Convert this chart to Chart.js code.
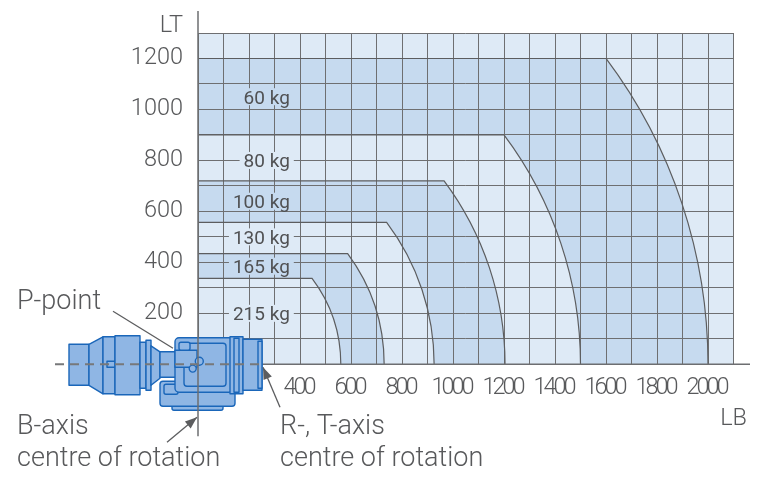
<!DOCTYPE html>
<html>
<head>
<meta charset="utf-8">
<script src="https://cdn.jsdelivr.net/npm/chart.js@4.4.1/dist/chart.umd.min.js"></script>
<style>
  html, body { margin: 0; padding: 0; background: #fff; }
  canvas { display: block; }
</style>
</head>
<body>
<canvas id="loadChart" width="774" height="484"></canvas>
<script>
// payload diagram, values
var payloads = ["60 kg", "80 kg", "100 kg", "130 kg", "165 kg", "215 kg"];
var maxReach = [2000, 1500, 1204, 926, 730, 560];   // LB where the envelope meets the axis
var maxHeight = [1200, 900, 720, 557, 434, 337];    // LT of the flat top
var labelLT = [1050, 800, 640, 500, 385, 200];      // height of each kg label
var labelLB = 360;                                  // right edge of the kg labels
var xTickLabels = [400, 600, 800, 1000, 1200, 1400, 1600, 1800, 2000];
var yTickLabels = [200, 400, 600, 800, 1000, 1200];

var LIGHT = "#deeaf6", DARK = "#c6daef", INK = "#58595b", GRID = "#6e6f71";
var FONT = "Roboto, 'Liberation Sans', sans-serif";

// top line + circular arc of one envelope, through the scales
function envelopePath(ctx, xs, ys, R, H) {
  var x0 = xs.getPixelForValue(0), y0 = ys.getPixelForValue(0);
  var rx = xs.getPixelForValue(R) - x0, ry = y0 - ys.getPixelForValue(R);
  var a = Math.sqrt(R * R - H * H);
  var th = Math.atan2(H, a);
  ctx.beginPath();
  ctx.moveTo(x0, ys.getPixelForValue(H));
  ctx.lineTo(xs.getPixelForValue(a), ys.getPixelForValue(H));
  ctx.ellipse(x0, y0, rx, ry, 0, -th, 0, false);
}

function arrow(ctx, x1, y1, x2, y2, head) {
  ctx.beginPath();
  ctx.moveTo(x1, y1);
  ctx.lineTo(x2, y2);
  ctx.stroke();
  if (!head) return;
  var ang = Math.atan2(y2 - y1, x2 - x1);
  ctx.beginPath();
  ctx.moveTo(x2, y2);
  ctx.lineTo(x2 - 12 * Math.cos(ang) + 4.5 * Math.sin(ang), y2 - 12 * Math.sin(ang) - 4.5 * Math.cos(ang));
  ctx.lineTo(x2 - 12 * Math.cos(ang) - 4.5 * Math.sin(ang), y2 - 12 * Math.sin(ang) + 4.5 * Math.cos(ang));
  ctx.closePath();
  ctx.fill();
}

// rough drawing of the wrist, offsets from the origin of the axes
function drawRobot(ctx, ox, oy) {
  ctx.save();
  ctx.translate(ox, oy);
  ctx.fillStyle = "#8fb6e4";
  ctx.strokeStyle = "#1a66b9";
  ctx.lineWidth = 1.4;
  ctx.lineJoin = "round";
  function poly(pts) {
    ctx.beginPath();
    ctx.moveTo(pts[0][0], pts[0][1]);
    for (var i = 1; i < pts.length; i++) ctx.lineTo(pts[i][0], pts[i][1]);
    ctx.closePath();
    ctx.fill();
    ctx.stroke();
  }
  function box(x1, y1, x2, y2, r) {
    ctx.beginPath();
    ctx.roundRect(x1, y1, x2 - x1, y2 - y1, r || 0);
    ctx.fill();
    ctx.stroke();
  }
  function circ(x, y, r) {
    ctx.beginPath();
    ctx.arc(x, y, r, 0, Math.PI * 2);
    ctx.fill();
    ctx.stroke();
  }
  // back motor
  box(-129, -20, -109, 21);
  poly([[-109, -20], [-95, -27.5], [-95, 29.5], [-109, 21]]);
  box(-95, -27.5, -83, 29.5);
  box(-91, -3, -83, 3);
  box(-83, -28.5, -58, 30.5);
  box(-58, -22, -52, 24);
  box(-52, -24, -47, 26);
  poly([[-47, -18.5], [-38, -12.5], [-38, 14], [-47, 21]]);
  box(-38, -12.5, -22, 13);
  // lower body and base plate
  box(-26, 40, 25, 46, 2);
  box(-38, 17, 37, 42, 3);
  box(-34, 20, -20, 30, 2);
  // main body
  box(-23, -26.5, 35, 28, 4);
  box(-14, -21, 28, 22, 3);
  box(-23, -14, -1, 3);
  box(-19, -22, -8, -14, 2);
  // right flanges
  box(32, -27.5, 45, 29.5);
  box(36, -26, 41, 28);
  box(45, -25, 64, 26);
  box(60, -23, 64, 24);
  circ(1.3, -3, 4);
  circ(-5.3, 4.3, 3.5);
  ctx.restore();
}

var payloadPlugin = {
  id: "payloadEnvelopes",
  beforeDraw: function (chart) {
    var ctx = chart.ctx, xs = chart.scales.x, ys = chart.scales.y, area = chart.chartArea;
    var x0 = xs.getPixelForValue(0), y0 = ys.getPixelForValue(0);
    ctx.save();
    ctx.fillStyle = LIGHT;
    ctx.fillRect(area.left, area.top, area.right - area.left, area.bottom - area.top);
    for (var i = 0; i < payloads.length; i++) {
      envelopePath(ctx, xs, ys, maxReach[i], maxHeight[i]);
      ctx.lineTo(x0, y0);
      ctx.closePath();
      ctx.fillStyle = i % 2 === 0 ? DARK : LIGHT;
      ctx.fill();
    }
    ctx.restore();
  },
  afterDraw: function (chart) {
    var ctx = chart.ctx, xs = chart.scales.x, ys = chart.scales.y;
    var x0 = xs.getPixelForValue(0), y0 = ys.getPixelForValue(0);
    var i;
    ctx.save();

    // envelope outlines
    ctx.strokeStyle = "#5c5d5f";
    ctx.lineWidth = 1.2;
    for (i = 0; i < payloads.length; i++) {
      envelopePath(ctx, xs, ys, maxReach[i], maxHeight[i]);
      ctx.stroke();
    }

    // kg labels on a patch of their band colour
    ctx.font = "400 19px " + FONT;
    ctx.textAlign = "right";
    ctx.textBaseline = "alphabetic";
    for (i = 0; i < payloads.length; i++) {
      var rx = xs.getPixelForValue(labelLB);
      var cy = ys.getPixelForValue(labelLT[i]);
      var w = ctx.measureText(payloads[i]).width;
      ctx.fillStyle = i % 2 === 0 ? DARK : LIGHT;
      ctx.fillRect(rx - w - 4, cy - 8.5, w + 8, 17);
      ctx.fillStyle = "#505153";
      ctx.fillText(payloads[i], rx, cy + 6.8);
    }

    // axis lines
    ctx.strokeStyle = "#6d6e71";
    ctx.lineWidth = 1.5;
    ctx.beginPath();
    ctx.moveTo(x0, y0);
    ctx.lineTo(chart.width - 24, y0);
    ctx.stroke();

    drawRobot(ctx, x0, y0);

    ctx.strokeStyle = "#6d6e71";
    ctx.lineWidth = 1.5;
    ctx.beginPath();
    ctx.moveTo(x0, 11);
    ctx.lineTo(x0, y0 + 72);
    ctx.stroke();
    ctx.setLineDash([9, 6]);
    ctx.strokeStyle = "#77787a";
    ctx.lineWidth = 2;
    ctx.beginPath();
    ctx.moveTo(x0 - 143, y0);
    ctx.lineTo(x0 + 64, y0);
    ctx.stroke();
    ctx.setLineDash([]);

    // x tick labels, set tight
    ctx.fillStyle = INK;
    ctx.font = "300 23.5px " + FONT;
    ctx.textAlign = "center";
    ctx.letterSpacing = "-3px";
    xTickLabels.forEach(function (v) {
      ctx.fillText(String(v), xs.getPixelForValue(v) - 1.5, y0 + 29.7);
    });
    ctx.letterSpacing = "0px";

    // axis titles
    ctx.textAlign = "right";
    ctx.fillText("LT", x0 - 15, 32);
    ctx.fillText("LB", x0 + 549, y0 + 61);

    // callouts
    ctx.textAlign = "left";
    ctx.font = "300 27px " + FONT;
    ctx.fillText("P-point", x0 - 181, y0 - 55);
    ctx.fillText("B-axis", x0 - 181, y0 + 70);
    ctx.fillText("centre of rotation", x0 - 181, y0 + 102);
    ctx.fillText("R-, T-axis", x0 + 82, y0 + 70);
    ctx.fillText("centre of rotation", x0 + 82, y0 + 102);

    ctx.strokeStyle = "#5c5d5f";
    ctx.fillStyle = "#5c5d5f";
    ctx.lineWidth = 1.3;
    arrow(ctx, x0 - 85, y0 - 53, x0 - 25, y0 - 16, false);
    arrow(ctx, x0 - 31, y0 + 78, x0 - 1, y0 + 53, true);
    arrow(ctx, x0 + 82, y0 + 43, x0 + 65, y0 + 3, true);

    ctx.restore();
  }
};

new Chart(document.getElementById("loadChart"), {
  type: "scatter",
  data: { datasets: [] },
  options: {
    responsive: false,
    animation: false,
    devicePixelRatio: 1,
    layout: { padding: { top: 33, right: 40.5, bottom: 0, left: 0 } },
    plugins: { legend: { display: false }, tooltip: { enabled: false } },
    scales: {
      x: {
        type: "linear",
        min: 0,
        max: 2100,
        afterFit: function (scale) { scale.height = 119.7; },
        grid: { color: GRID, lineWidth: 1, drawTicks: false },
        border: { display: false },
        ticks: { stepSize: 100, autoSkip: false, display: false }
      },
      y: {
        type: "linear",
        min: 0,
        max: 1300,
        afterFit: function (scale) { scale.width = 198; },
        grid: { color: GRID, lineWidth: 1, drawTicks: false },
        border: { display: false },
        ticks: {
          stepSize: 100,
          autoSkip: false,
          padding: 15,
          color: INK,
          font: { family: FONT, size: 23.5, weight: "300" },
          callback: function (v) { return yTickLabels.indexOf(v) >= 0 ? String(v) : ""; }
        }
      }
    }
  },
  plugins: [payloadPlugin]
});
</script>
</body>
</html>
